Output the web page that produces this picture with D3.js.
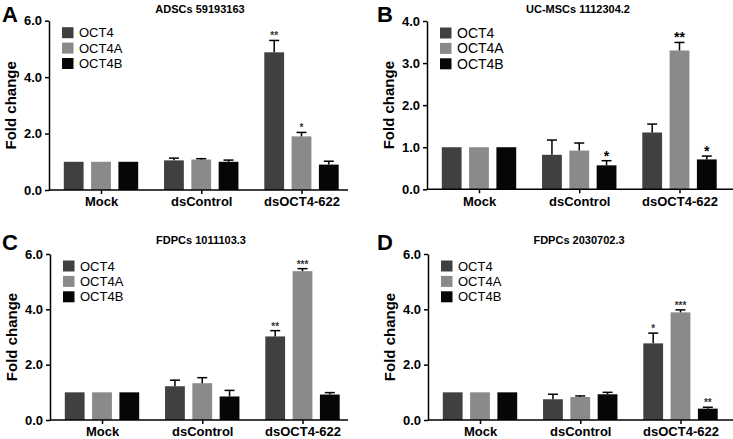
<!DOCTYPE html>
<html><head><meta charset="utf-8">
<script src="https://cdn.jsdelivr.net/npm/d3@7"></script>
<style>
html,body{margin:0;padding:0;background:#fff;}
svg{display:block;}
text{font-family:Arial,"Liberation Sans",sans-serif;}
</style></head>
<body>
<svg id="chart" width="733" height="439"></svg>
<script>
// ---- data ----
const groups = ["Mock", "dsControl", "dsOCT4-622"];
const series = ["OCT4", "OCT4A", "OCT4B"];
const seriesColors = ["#404040", "#8a8a8a", "#060606"];

const panelLetters = ["A", "B", "C", "D"];
const panelTitles = ["ADSCs 59193163", "UC-MSCs 1112304.2", "FDPCs 1011103.3", "FDPCs 2030702.3"];
const yMax = [6, 4, 6, 6];
const yTicksA = [0, 2, 4, 6];
const yTicksB = [0, 1, 2, 3, 4];
const yTicksC = [0, 2, 4, 6];
const yTicksD = [0, 2, 4, 6];

// values[group][series]
const valuesA = [[1, 1, 1], [1.05, 1.08, 1.00], [4.88, 1.90, 0.90]];
const errorsA = [[0, 0, 0], [0.08, 0.03, 0.06], [0.42, 0.14, 0.12]];
const starsA  = [["", "", ""], ["", "", ""], ["**", "*", ""]];

const valuesB = [[1, 1, 1], [0.82, 0.92, 0.57], [1.35, 3.30, 0.71]];
const errorsB = [[0, 0, 0], [0.35, 0.18, 0.11], [0.20, 0.19, 0.08]];
const starsB  = [["", "", ""], ["", "", "*"], ["", "**", "*"]];

const valuesC = [[1, 1, 1], [1.22, 1.33, 0.85], [3.02, 5.38, 0.92]];
const errorsC = [[0, 0, 0], [0.22, 0.20, 0.22], [0.21, 0.09, 0.07]];
const starsC  = [["", "", ""], ["", "", ""], ["**", "***", ""]];

const valuesD = [[1, 1, 1], [0.75, 0.83, 0.93], [2.77, 3.89, 0.41]];
const errorsD = [[0, 0, 0], [0.18, 0.04, 0.07], [0.37, 0.09, 0.05]];
const starsD  = [["", "", ""], ["", "", ""], ["*", "***", "**"]];

const allValues = [valuesA, valuesB, valuesC, valuesD];
const allErrors = [errorsA, errorsB, errorsC, errorsD];
const allStars = [starsA, starsB, starsC, starsD];
const allTicks = [yTicksA, yTicksB, yTicksC, yTicksD];

// ---- layout (positions/styles) ----
const layout = [
  {ax: 49,  y0: 190, yTop: 20.7, xEnd: 348, letterX: 2,   letterY: 22,  titleY: 13,  legFont: 13, starFont: 10},
  {ax: 427, y0: 189.3, yTop: 21, xEnd: 733, letterX: 377, letterY: 22,  titleY: 13,  legFont: 14, starFont: 14},
  {ax: 50,  y0: 420, yTop: 254, xEnd: 348, letterX: 2,   letterY: 250, titleY: 244, legFont: 13, starFont: 10},
  {ax: 428, y0: 420, yTop: 254, xEnd: 733, letterX: 377, letterY: 250, titleY: 244, legFont: 13, starFont: 10}
];

const svg = d3.select("#chart");

layout.forEach((L, p) => {
  const g = svg.append("g");
  const y = d3.scaleLinear().domain([0, yMax[p]]).range([L.y0, L.yTop]);
  const xg = d3.scalePoint().domain(groups).range([L.ax + 52, L.ax + 252.5]);
  const xs = d3.scaleBand().domain(series).range([-37.2, 37.2]).paddingInner(0.275).paddingOuter(0);

  // bars
  groups.forEach((grp, gi) => {
    series.forEach((s, si) => {
      const v = allValues[p][gi][si];
      const e = allErrors[p][gi][si];
      const bx = xg(grp) + xs(s);
      const cx = bx + xs.bandwidth() / 2;
      g.append("rect")
        .attr("x", bx).attr("y", y(v))
        .attr("width", xs.bandwidth()).attr("height", y(0) - y(v))
        .attr("fill", seriesColors[si]);
      if (e > 0) {
        g.append("line").attr("x1", cx).attr("x2", cx)
          .attr("y1", y(v)).attr("y2", y(v + e))
          .attr("stroke", "#000").attr("stroke-width", 1.5);
        g.append("line").attr("x1", cx - 5).attr("x2", cx + 5)
          .attr("y1", y(v + e)).attr("y2", y(v + e))
          .attr("stroke", "#000").attr("stroke-width", 1.5);
      }
      const st = allStars[p][gi][si];
      if (st) {
        g.append("text").attr("x", cx).attr("y", y(v + e) - (L.starFont > 12 ? 0 : 1))
          .attr("text-anchor", "middle")
          .attr("font-size", L.starFont).attr("font-weight", "bold")
          .attr("fill", L.starFont > 12 ? "#000" : "#333")
          .text(st);
      }
    });
  });

  // y axis
  const yAxis = d3.axisLeft(y).tickValues(allTicks[p]).tickSize(4).tickSizeOuter(0)
    .tickFormat(d3.format(".1f"));
  const ya = g.append("g").attr("transform", `translate(${L.ax},0)`).call(yAxis);
  ya.select(".domain").attr("stroke-width", 1.5);
  ya.selectAll(".tick line").attr("stroke-width", 1.5);
  ya.selectAll(".tick text").attr("font-size", 13).attr("font-weight", "bold")
    .attr("font-family", "Arial, 'Liberation Sans', sans-serif").attr("fill", "#000");

  // x axis
  const xAxis = d3.axisBottom(xg).tickSize(4);
  const xa = g.append("g").attr("transform", `translate(0,${L.y0})`).call(xAxis);
  xa.select(".domain").remove();
  xa.selectAll(".tick line").attr("stroke-width", 1.5);
  xa.selectAll(".tick text").attr("font-size", 13).attr("font-weight", "bold")
    .attr("font-family", "Arial, 'Liberation Sans', sans-serif").attr("fill", "#000");
  g.append("line").attr("x1", L.ax).attr("x2", L.xEnd)
    .attr("y1", L.y0).attr("y2", L.y0)
    .attr("stroke", "#000").attr("stroke-width", 1.5);

  // y label
  g.append("text")
    .attr("transform", `translate(${L.ax - 38},${(L.y0 + L.yTop) / 2}) rotate(-90)`)
    .attr("text-anchor", "middle").attr("dy", "0.35em")
    .attr("font-size", 15).attr("font-weight", "bold").text("Fold change");

  // title
  g.append("text").attr("x", L.ax + 151).attr("y", L.titleY)
    .attr("text-anchor", "middle").attr("font-size", 11).attr("font-weight", "bold")
    .text(panelTitles[p]);

  // panel letter
  g.append("text").attr("x", L.letterX).attr("y", L.letterY)
    .attr("font-size", 22).attr("font-weight", "bold").text(panelLetters[p]);

  // legend
  const lg = g.append("g").attr("transform", `translate(${L.ax + 13},${L.yTop + 12})`);
  series.forEach((s, si) => {
    lg.append("rect").attr("x", 0).attr("y", si * 15.4 - 5.5)
      .attr("width", 11.5).attr("height", 11).attr("fill", seriesColors[si]);
    lg.append("text").attr("x", 17).attr("y", si * 15.4).attr("dy", "0.36em")
      .attr("font-size", L.legFont).text(s);
  });
});
</script>
</body></html>
